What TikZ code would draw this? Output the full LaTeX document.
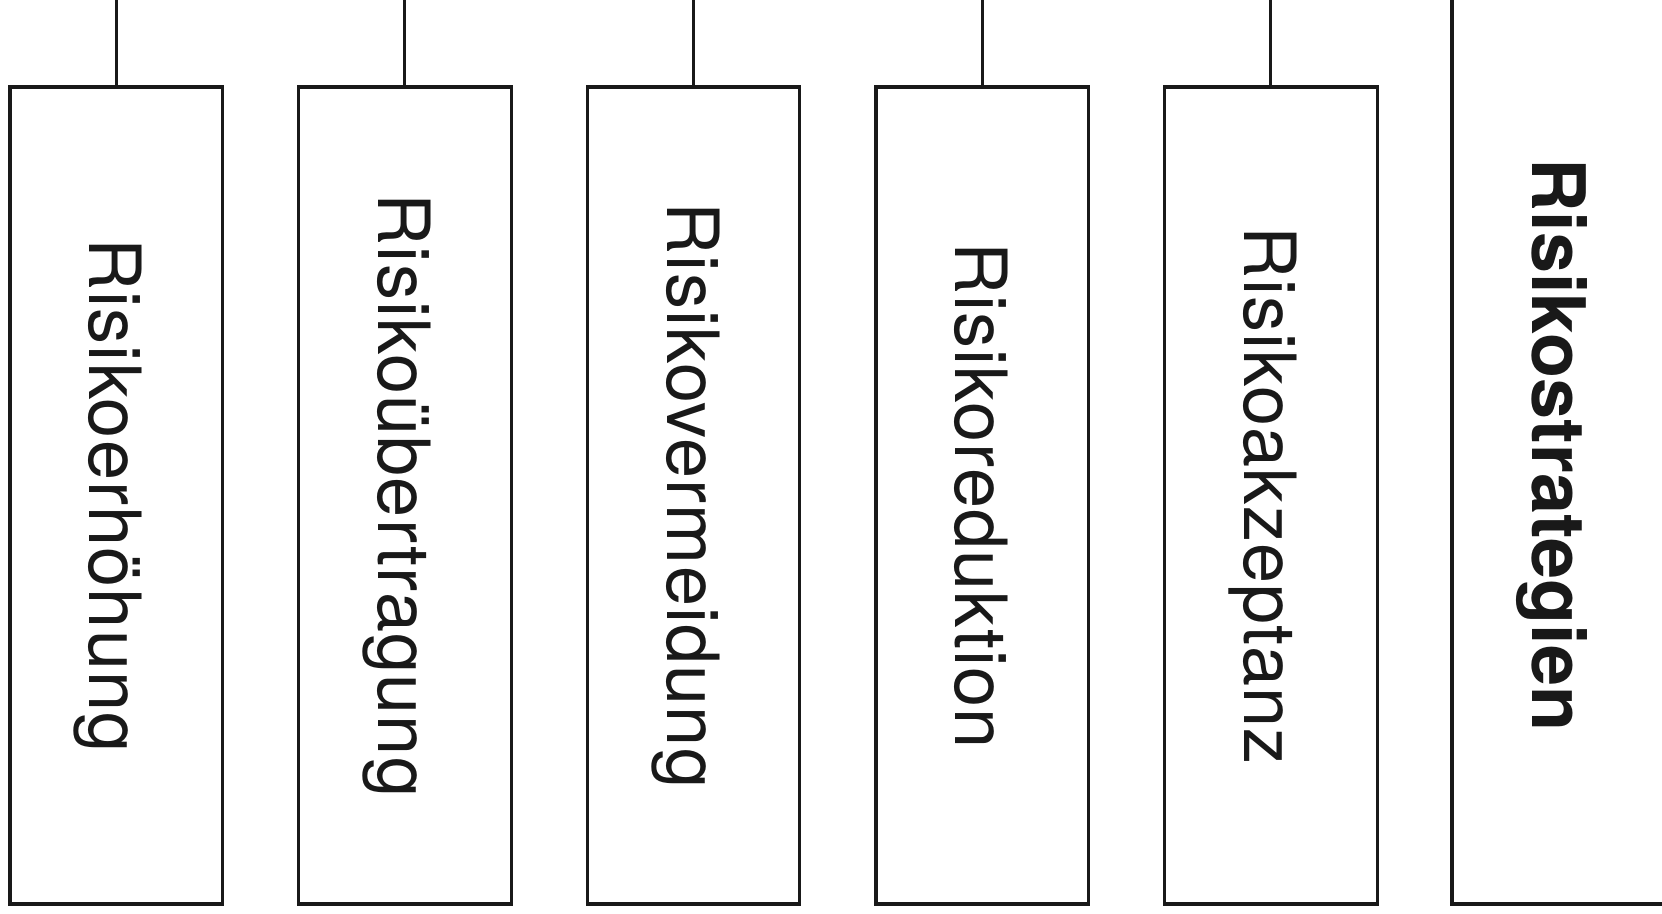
\documentclass[tikz,border=0pt]{standalone}
\usepackage{fontspec}
\setmainfont{TeX Gyre Heros}
\newfontfamily\spaced[LetterSpace=1.6]{TeX Gyre Heros}
\usetikzlibrary{positioning}
\newcommand{\vlabel}[1]{\rotatebox{-90}{\raisebox{0pt}[\height][0pt]{#1}}}
\begin{document}
\begin{tikzpicture}[node distance=1.46cm, line width=1.8pt, color={black!90},
    strategy/.style={rectangle, draw, minimum width=4.25cm, minimum height=16.34cm, inner sep=0pt, font=\spaced\fontsize{41}{44}\selectfont}]
    \useasboundingbox (0,0) rectangle (33.24,18.26);
    \clip (0,0) rectangle (33.24,18.26);
    \coordinate (top) at (0,18.26);
    % Title box
    \node[rectangle, draw, minimum width=4.32cm, minimum height=18.36cm, inner sep=0pt, font=\fontsize{42}{46}\selectfont\bfseries] (title) at (31.2,9.36) {\vlabel{Risikostrategien}};
    % Strategies
    \node[strategy] (erh) at (2.325,8.35) {\vlabel{Risikoerhöhung}};
    \node[strategy, right=of erh] (ueb) {\vlabel{Risikoübertragung}};
    \node[strategy, right=of ueb] (verm) {\vlabel{Risikovermeidung}};
    \node[strategy, right=of verm] (red) {\vlabel{Risikoreduktion}};
    \node[strategy, right=of red] (akz) {\vlabel{Risikoakzeptanz}};
    % Connectors
    \foreach \n in {erh, ueb, verm, red, akz}
        \draw (\n.north) -- (\n.north |- top);
\end{tikzpicture}
\end{document}
